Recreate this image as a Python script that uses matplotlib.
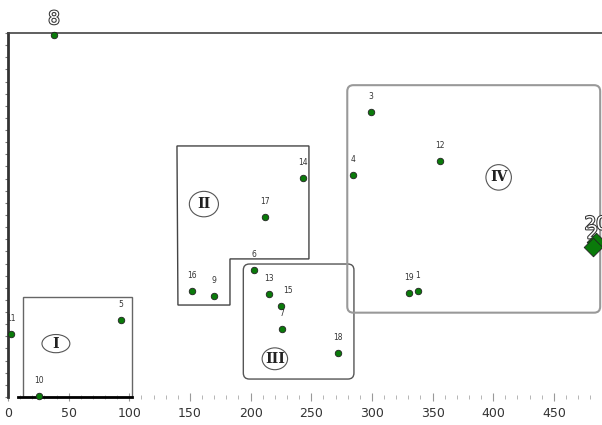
import matplotlib.pyplot as plt
import matplotlib.patheffects as pe
from matplotlib.patches import Rectangle, Polygon, FancyBboxPatch, Ellipse
import numpy as np

ids = ["1", "3", "4", "5", "6", "7", "8", "9", "10", "11", "12", "13", "14", "15", "16", "17", "18", "19"]
xs = [338.0, 299.3, 284.4, 93.2, 202.8, 225.9, 37.9, 169.8, 25.6, 2.5, 356.2, 215.2, 243.2, 225.1, 151.7, 211.9, 272.1, 330.6]
ys = [87.4, 234.9, 183.0, 63.5, 104.7, 56.0, 298.4, 83.3, 0.8, 51.9, 194.5, 84.9, 180.5, 75.0, 87.4, 148.4, 36.3, 85.7]

# the two overlapping points at the right edge
big_ids = ["20", "2"]
big_x = [484.8, 482.0]
big_y = [128.0, 124.0]

groups = ["I", "II", "III", "IV"]
group_x = [39.5, 161.5, 220.0, 404.5]
group_y = [44.0, 159.0, 31.5, 181.0]

fig = plt.figure(figsize=(6.02, 4.25), dpi=100)
ax = fig.add_axes([8 / 602, 28 / 425, 1 - 8 / 602, 364 / 425])
ax.set_xlim(0, 489.7)
ax.set_ylim(0, 300)

for s in ["right", "bottom"]:
    ax.spines[s].set_visible(False)
ax.spines["left"].set_linewidth(2)
ax.spines["left"].set_color("#333333")
ax.spines["top"].set_linewidth(1.2)
ax.spines["top"].set_color("#444444")

ax.set_xticks(np.arange(0, 451, 50))
ax.set_xticks(np.arange(0, 481, 10), minor=True)
ax.set_yticks(np.arange(0, 301, 10))
ax.set_yticklabels([])
ax.tick_params(axis="x", which="major", direction="inout", length=6, color="#999999",
               labelsize=9, labelcolor="#333333", pad=4)
ax.tick_params(axis="x", which="minor", direction="inout", length=3, color="#aaaaaa")
ax.tick_params(axis="y", which="major", direction="out", length=2, color="#777777")

# thick baseline under group I
ax.plot([8.2, 102.2], [0, 0], color="black", lw=2, clip_on=False)

# group regions
ax.add_patch(Rectangle((12.4, 0), 89.8, 82.4, fill=False, ec="#666666", lw=1))
ax.add_patch(Polygon([(139.3, 206.9), (248.1, 206.9), (248.1, 113.8), (183.0, 113.8),
                      (183.0, 75.8), (140.1, 75.8)], closed=True, fill=False, ec="#444444", lw=1))
ax.add_patch(FancyBboxPatch((194.0, 14.8), 91.2, 94.8, boxstyle="round,pad=0,rounding_size=5",
                            fill=False, ec="#555555", lw=1))
ax.add_patch(FancyBboxPatch((279.7, 69.5), 208.5, 187.5, boxstyle="round,pad=0,rounding_size=5",
                            fill=False, ec="#999999", lw=1.5, clip_on=False))

ell_w = [23, 24, 21, 21]
ell_h = [15, 21, 18, 21]
for g, gx, gy, w, h in zip(groups, group_x, group_y, ell_w, ell_h):
    ax.add_patch(Ellipse((gx, gy), w, h, fill=False, ec="#555555", lw=0.8))
    ax.text(gx, gy, g, ha="center", va="center", family="DejaVu Serif",
            fontsize=10, fontweight="bold", color="#222222")

ax.scatter(xs, ys, s=22, c="#0a7a0a", edgecolors="#222222", linewidths=0.6, zorder=5, clip_on=False)
for t, x, y in zip(ids, xs, ys):
    if t == "8":
        ax.annotate(t, (x, y), xytext=(0, 5), textcoords="offset points", ha="center",
                    va="bottom", fontsize=13, color="white",
                    path_effects=[pe.withStroke(linewidth=1.5, foreground="#333333")])
        continue
    dx = 5 if t == "15" else 0
    ax.annotate(t, (x, y), xytext=(dx, 8), textcoords="offset points", ha="center",
                va="bottom", fontsize=5.5, color="#333333")

ax.scatter(big_x, big_y, s=90, c="#0a7a0a", marker="D", edgecolors="#222222",
           linewidths=0.6, zorder=5, clip_on=False)
big_off = [(0, 6), (0, 3)]
for t, x, y, off in zip(big_ids, big_x, big_y, big_off):
    ax.annotate(t, (x, y), xytext=off, textcoords="offset points", ha="center", va="bottom",
                fontsize=13, color="white",
                path_effects=[pe.withStroke(linewidth=1.5, foreground="#333333")])

fig.savefig("out.png", dpi=100)
